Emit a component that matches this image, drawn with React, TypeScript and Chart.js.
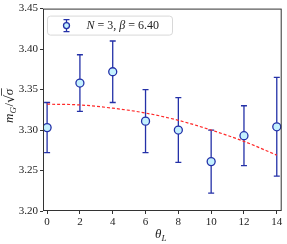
import React, { useEffect, useRef } from "react";
import { Chart, registerables } from "chart.js";

Chart.register(...registerables);

const thetaL = [0, 2, 4, 6, 8, 10, 12, 14];
const mass = [3.303, 3.358, 3.372, 3.311, 3.3, 3.261, 3.293, 3.304];
const massErr = [0.031, 0.035, 0.038, 0.039, 0.04, 0.039, 0.037, 0.061];
const fitTheta = [0, 2, 4, 6, 8, 10, 12, 14];
const fitMass = [3.332, 3.331, 3.327, 3.321, 3.312, 3.3, 3.286, 3.269];
const xTicks = [0, 2, 4, 6, 8, 10, 12, 14];
const yTicks = [3.2, 3.25, 3.3, 3.35, 3.4, 3.45];
const legendLabel = ["N", " = 3, ", "β", " = 6.40"];

const SERIF = "'Liberation Serif', 'DejaVu Serif', serif";
const BAR = "#2431a8";
const FILL = "#c4f1ff";

const errPlugin = {
  id: "errbars",
  beforeDatasetsDraw(chart: any) {
    const ctx = chart.ctx;
    const xs = chart.scales.x;
    const ys = chart.scales.y;
    ctx.save();
    ctx.strokeStyle = BAR;
    ctx.lineWidth = 1.3;
    thetaL.forEach((t, i) => {
      const px = xs.getPixelForValue(t);
      const y1 = ys.getPixelForValue(mass[i] + massErr[i]);
      const y2 = ys.getPixelForValue(mass[i] - massErr[i]);
      ctx.beginPath();
      ctx.moveTo(px, y1);
      ctx.lineTo(px, y2);
      ctx.moveTo(px - 3, y1);
      ctx.lineTo(px + 3, y1);
      ctx.moveTo(px - 3, y2);
      ctx.lineTo(px + 3, y2);
      ctx.stroke();
    });
    ctx.restore();
  },
  afterDraw(chart: any) {
    const ctx = chart.ctx;
    const a = chart.chartArea;
    ctx.save();
    // frame
    ctx.strokeStyle = "#333";
    ctx.lineWidth = 1;
    ctx.strokeRect(a.left + 0.5, a.top + 0.5, a.right - a.left - 1, a.bottom - a.top - 1);

    // legend
    const lx = a.left + 4.5, ly = a.top + 7.5, lw = 125, lh = 19;
    ctx.fillStyle = "rgba(255,255,255,0.8)";
    ctx.strokeStyle = "#d8d8d8";
    ctx.lineWidth = 1;
    ctx.beginPath();
    (ctx as any).roundRect(lx, ly, lw, lh, 3);
    ctx.fill();
    ctx.stroke();
    const mx = lx + 19, my = ly + lh / 2;
    ctx.strokeStyle = BAR;
    ctx.lineWidth = 1.3;
    ctx.beginPath();
    ctx.moveTo(mx, my - 6);
    ctx.lineTo(mx, my + 6);
    ctx.moveTo(mx - 3, my - 6);
    ctx.lineTo(mx + 3, my - 6);
    ctx.moveTo(mx - 3, my + 6);
    ctx.lineTo(mx + 3, my + 6);
    ctx.stroke();
    ctx.beginPath();
    ctx.arc(mx, my, 3, 0, Math.PI * 2);
    ctx.fillStyle = FILL;
    ctx.fill();
    ctx.stroke();
    ctx.fillStyle = "#222";
    ctx.textBaseline = "middle";
    let tx = lx + 39;
    legendLabel.forEach((s, i) => {
      ctx.font = (i % 2 === 0 ? "italic " : "") + "12px " + SERIF;
      ctx.fillText(s, tx, my + 0.5);
      tx += ctx.measureText(s).width;
    });

    // y label m_G / sqrt(sigma)
    ctx.save();
    ctx.translate(9, 104);
    ctx.rotate(-Math.PI / 2);
    ctx.textBaseline = "alphabetic";
    let x = -19;
    const base = 4;
    ctx.font = "italic 13px " + SERIF;
    ctx.fillText("m", x, base);
    x += ctx.measureText("m").width;
    ctx.font = "italic 9px " + SERIF;
    ctx.fillText("G", x, base + 2.5);
    x += ctx.measureText("G").width + 0.5;
    ctx.font = "13px " + SERIF;
    ctx.fillText("/", x, base);
    x += ctx.measureText("/").width;
    ctx.font = "13px 'DejaVu Serif', serif";
    ctx.fillText("√", x, base + 1);
    x += ctx.measureText("√").width - 0.5;
    ctx.font = "italic 13px " + SERIF;
    ctx.fillText("σ", x, base);
    const sw = ctx.measureText("σ").width;
    ctx.strokeStyle = "#222";
    ctx.lineWidth = 0.8;
    ctx.beginPath();
    ctx.moveTo(x - 0.5, base - 11.5);
    ctx.lineTo(x + sw + 0.5, base - 11.5);
    ctx.stroke();
    ctx.restore();

    // x label theta_L
    ctx.textBaseline = "alphabetic";
    ctx.fillStyle = "#222";
    ctx.font = "italic 13px " + SERIF;
    const xl = 155;
    ctx.fillText("θ", xl, 238);
    const thw = ctx.measureText("θ").width;
    ctx.font = "italic 9px " + SERIF;
    ctx.fillText("L", xl + thw, 240.5);
    ctx.restore();
  },
};

export default function App() {
  const ref = useRef<HTMLCanvasElement>(null);
  useEffect(() => {
    document.body.style.margin = "0";
    const chart = new Chart(ref.current as HTMLCanvasElement, {
      type: "scatter",
      data: {
        datasets: [
          {
            data: thetaL.map((t, i) => ({ x: t, y: mass[i] })),
            pointRadius: 4,
            pointHoverRadius: 4,
            pointBackgroundColor: FILL,
            pointBorderColor: BAR,
            pointBorderWidth: 1.3,
            showLine: false,
          },
          {
            type: "line",
            data: fitTheta.map((t, i) => ({ x: t, y: fitMass[i] })),
            borderColor: "#ff2a2a",
            borderWidth: 1.2,
            borderDash: [3, 2],
            pointRadius: 0,
            cubicInterpolationMode: "monotone",
            fill: false,
          } as any,
        ],
      },
      options: {
        animation: false,
        responsive: false,
        maintainAspectRatio: false,
        layout: { padding: { left: 0, right: 5, top: 8, bottom: 0 } },
        plugins: { legend: { display: false }, tooltip: { enabled: false } },
        scales: {
          x: {
            type: "linear",
            min: -0.25,
            max: 14.3,
            afterBuildTicks: (s: any) => {
              s.ticks = xTicks.map((v) => ({ value: v }));
            },
            afterFit: (s: any) => {
              s.height = 33;
            },
            grid: { drawOnChartArea: false, drawTicks: true, tickLength: 3, color: "#333" },
            border: { display: false },
            ticks: {
              color: "#222",
              padding: 2,
              font: { family: SERIF, size: 11 },
              maxRotation: 0,
              callback: (v: any) => String(v),
            },
          },
          y: {
            type: "linear",
            min: 3.2,
            max: 3.45,
            afterBuildTicks: (s: any) => {
              s.ticks = yTicks.map((v) => ({ value: v }));
            },
            afterFit: (s: any) => {
              s.width = 43;
            },
            grid: { drawOnChartArea: false, drawTicks: true, tickLength: 3, color: "#333" },
            border: { display: false },
            ticks: {
              color: "#222",
              padding: 2,
              font: { family: SERIF, size: 11 },
              callback: (v: any) => Number(v).toFixed(2),
            },
          },
        },
      },
      plugins: [errPlugin],
    });
    return () => chart.destroy();
  }, []);
  return (
    <div style={{ position: "fixed", left: 0, top: 0, width: 287, height: 244 }}>
      <canvas ref={ref} width={287} height={244} style={{ width: 287, height: 244 }} />
    </div>
  );
}
